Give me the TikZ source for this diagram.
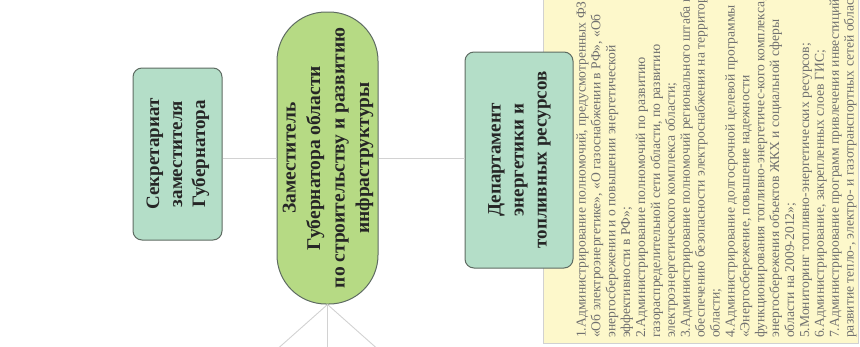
\documentclass[tikz,border=0pt]{standalone}
\usepackage{fontspec}
\setmainfont{Liberation Serif}
\usetikzlibrary{positioning}

\definecolor{mint}{HTML}{B4DEC8}
\definecolor{salat}{HTML}{B6DA84}
\definecolor{rand}{HTML}{5E6B62}
\definecolor{gelb}{HTML}{FDF8CB}
\definecolor{linie}{HTML}{D2D2D2}
\definecolor{schrift}{HTML}{707070}

\begin{document}
\begin{tikzpicture}[x=1pt,y=-1pt,
  amt/.style={draw=rand,line width=1pt,fill=mint,rounded corners=9pt,inner sep=0pt,
    font=\fontsize{19}{23}\selectfont\bfseries,text=black!85},
  leiter/.style={amt,fill=salat,rounded corners=49pt,font=\fontsize{19.5}{24.5}\selectfont\bfseries},
  verb/.style={draw=linie,line width=0.9pt}]
  \useasboundingbox (0,0) rectangle (860,346);

  % Aufgaben
  \draw[draw=black!18,fill=gelb] (543,-6) rectangle (858,343);
  \node[rotate=90,anchor=north west,align=left,inner sep=0pt,text=schrift,
    font=\fontsize{13.6}{14.9}\selectfont] (aufg) at (576,338) {%
    1.Администрирование полномочий, предусмотренных ФЗ\\
    «Об электроэнергетике», «О газоснабжении в РФ», «Об\\
    энергосбережении и о повышении энергетической\\
    эффективности в РФ»;\\
    2.Администрирование полномочий по развитию\\
    газораспределительной сети области, по развитию\\
    электроэнергетического комплекса области;\\
    3.Администрирование полномочий регионального штаба по\\
    обеспечению безопасности электроснабжения на территории\\
    области;\\
    4.Администрирование долгосрочной целевой программы\\
    «Энергосбережение, повышение надежности\\
    функционирования топливно-энергетичес-кого комплекса,\\
    энергосбережения объектов ЖКХ и социальной сферы\\
    области на 2009-2012»;\\
    5.Мониторинг топливно-энергетических ресурсов;\\
    6.Администрирование, закрепленных слоев ГИС;\\
    7.Администрирование программ привлечения инвестиций в\\
    развитие тепло-, электро- и газотранспортных сетей области};

  % Sekretariat
  \node[amt,minimum width=89pt,minimum height=172pt] (sekr) at (177.5,154)
    {\rotatebox{90}{\begin{tabular}{@{}c@{}}Секретариат\\заместителя\\Губернатора\end{tabular}}};

  % Stellvertreter
  \node[leiter,minimum width=101pt,minimum height=292pt] (zam) at (327.5,158)
    {\rotatebox{90}{\begin{tabular}{@{}c@{}}Заместитель\\Губернатора области\\по строительству и развитию\\инфраструктуры\end{tabular}}};

  % Departement
  \node[amt,minimum width=108pt,minimum height=216pt] (dep) at (519,160)
    {\rotatebox{90}{\begin{tabular}{@{}c@{}}Департамент\\энергетики и\\топливных ресурсов\end{tabular}}};

  % Verbindungen
  \coordinate (u1) at (274,352);
  \coordinate (u2) at (327.5,352);
  \coordinate (u3) at (381,352);
  \draw[verb] (zam.west) -- (zam.west -| sekr.east);
  \draw[verb] (zam.east) -- (zam.east -| dep.west);
  \draw[verb] (zam.south) -- (u1)
              (zam.south) -- (u2)
              (zam.south) -- (u3);
\end{tikzpicture}
\end{document}
